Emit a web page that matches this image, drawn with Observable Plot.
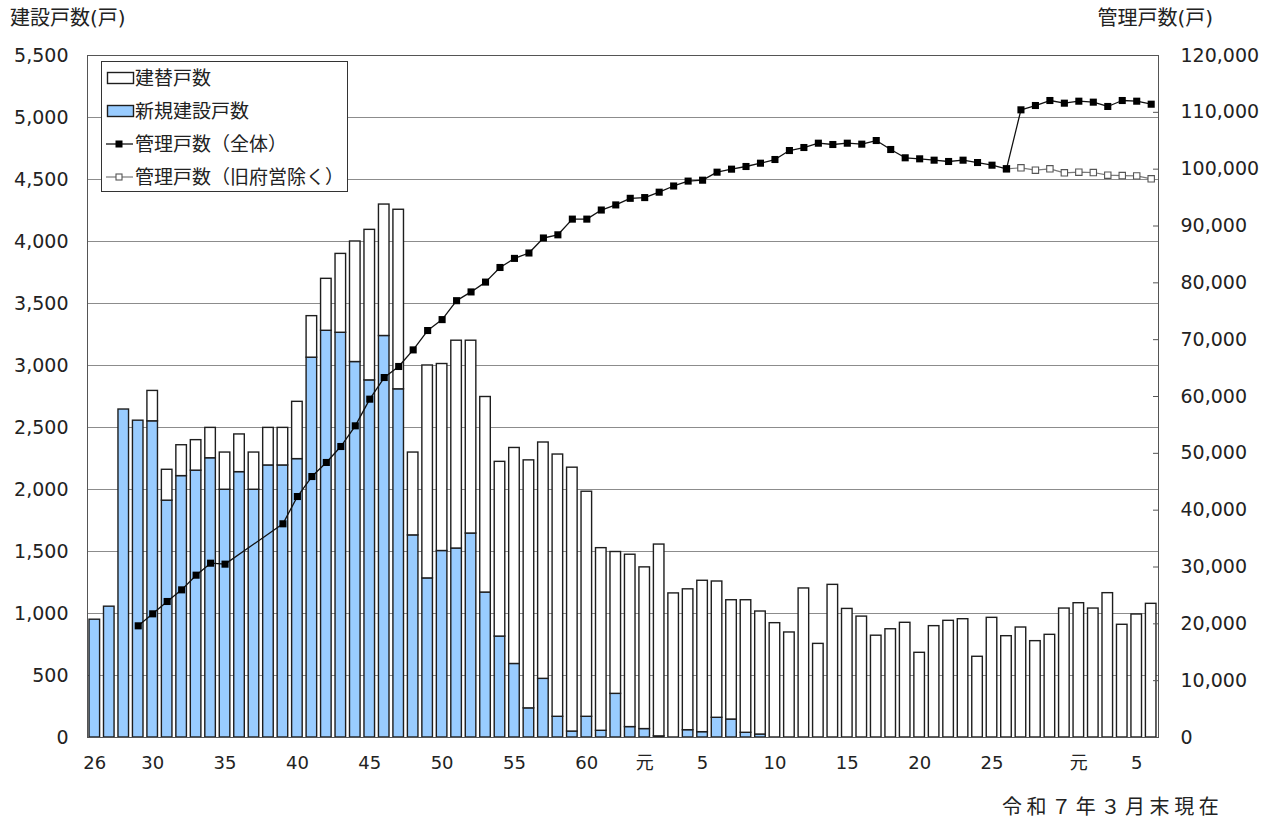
<!DOCTYPE html>
<html><head><meta charset="utf-8">
<script src="https://cdn.jsdelivr.net/npm/d3@7"></script>
<script src="https://cdn.jsdelivr.net/npm/@observablehq/plot@0.6"></script>
<style>
body{margin:0;background:#fff;}
#chart svg{display:block;}
</style></head><body><div id="chart"></div>
<script>
// 年度 (昭和26年〜令和6年)
const years = [1951,1952,1953,1954,1955,1956,1957,1958,1959,1960,1961,1962,1963,1964,1965,1966,1967,1968,1969,1970,
1971,1972,1973,1974,1975,1976,1977,1978,1979,1980,1981,1982,1983,1984,1985,1986,1987,1988,1989,1990,
1991,1992,1993,1994,1995,1996,1997,1998,1999,2000,2001,2002,2003,2004,2005,2006,2007,2008,2009,2010,
2011,2012,2013,2014,2015,2016,2017,2018,2019,2020,2021,2022,2023,2024];
// 新規建設戸数
const newBuild = [950,1055,2645,2555,2550,1910,2108,2152,2252,1998,2140,1998,2194,2194,2245,3063,3280,3264,3028,2880,
3238,2808,1630,1283,1504,1524,1645,1169,814,593,235,473,167,48,167,54,352,84,68,9,
0,59,43,159,145,38,24,0,0,0,0,0,0,0,0,0,0,0,0,0,
0,0,0,0,0,0,0,0,0,0,0,0,0,0];
// 建替戸数
const rebuild = [0,0,0,0,245,249,249,246,245,300,304,300,303,303,462,335,419,636,972,1214,
1060,1448,668,1717,1508,1676,1555,1577,1409,1742,2000,1906,2115,2128,1815,1473,1144,1390,1304,1547,
1162,1136,1221,1099,962,1069,992,922,847,1202,755,1231,1037,975,821,873,925,683,898,941,
954,651,965,817,887,777,828,1040,1083,1040,1164,909,992,1078];
// 管理戸数（全体）
const kanriAll = [null,null,null,19650,21760,23930,25980,28560,30670,30500,null,null,null,37600,42400,45920,48390,51200,54840,59530,
63340,65280,68200,71610,73530,76860,78400,80130,82700,84300,85250,87890,88450,91210,91210,92810,93710,94870,95000,95950,
97040,97900,98060,99470,100000,100470,101050,101700,103280,103810,104570,104340,104570,104400,105040,103460,102000,101820,101580,101350,
101580,101170,100700,100060,110440,111200,112080,111610,111960,111790,111030,112080,111960,111430];
// 管理戸数（旧府営除く）
const kanriExcl = [null,null,null,null,null,null,null,null,null,null,null,null,null,null,null,null,null,null,null,null,
null,null,null,null,null,null,null,null,null,null,null,null,null,null,null,null,null,null,null,null,
null,null,null,null,null,null,null,null,null,null,null,null,null,null,null,null,null,null,null,null,
null,null,null,100060,100240,99820,100060,99360,99470,99410,98940,98880,98820,98300];

const xTickYears = [1951,1955,1960,1965,1970,1975,1980,1985,1989,1993,1998,2003,2008,2013,2019,2023];
const xTickLabels = ["26","30","35","40","45","50","55","60","元","5","10","15","20","25","元","5"];
const leftTicks = [0,500,1000,1500,2000,2500,3000,3500,4000,4500,5000,5500];
const rightTicks = [0,10000,20000,30000,40000,50000,60000,70000,80000,90000,100000,110000,120000];
const seriesNames = ["建替戸数","新規建設戸数","管理戸数（全体）","管理戸数（旧府営除く）"];
const leftTitle = "建設戸数(戸)";
const rightTitle = "管理戸数(戸)";
const caption = "令和７年３月末現在";

const FONT = '"DejaVu Sans","Noto Sans CJK JP",sans-serif';
const k = 5500/120000;
const barRows = [];
years.forEach((y,i)=>{
  barRows.push({year:y, type:seriesNames[1], value:newBuild[i]});
  barRows.push({year:y, type:seriesNames[0], value:rebuild[i]});
});
const allRows = years.map((y,i)=>({year:y, v:kanriAll[i]})).filter(d=>d.v!=null);
const exclRows = years.map((y,i)=>({year:y, v:kanriExcl[i]})).filter(d=>d.v!=null);
const tickMap = new Map(xTickYears.map((y,i)=>[y,xTickLabels[i]]));
const fmt = d3.format(",");

const chart = Plot.plot({
  width:1275, height:823,
  marginLeft:87, marginRight:117, marginTop:55, marginBottom:86,
  style:{fontFamily:FONT, fontSize:"18px", color:"#222", background:"#fff", overflow:"visible"},
  x:{type:"band", domain:years, paddingInner:0.27, paddingOuter:0.14, align:0.5},
  y:{domain:[0,5500]},
  color:{domain:[seriesNames[1],seriesNames[0]], range:["#99ccff","#ffffff"]},
  marks:[
    Plot.gridY(leftTicks, {stroke:"#8c8c8c", strokeOpacity:1, strokeWidth:1}),
    Plot.barY(barRows, {x:"year", y:"value", fill:"type", stroke:"#1e1e1e", strokeWidth:1.4}),
    Plot.line(exclRows, {x:"year", y:d=>d.v*k, stroke:"#7a7a7a", strokeWidth:1.2}),
    Plot.dot(exclRows, {x:"year", y:d=>d.v*k, symbol:"square", r:3.6, fill:"#fff", stroke:"#555", strokeWidth:1.1}),
    Plot.line(allRows, {x:"year", y:d=>d.v*k, stroke:"#111", strokeWidth:1.3}),
    Plot.dot(allRows, {x:"year", y:d=>d.v*k, symbol:"square", r:4, fill:"#000", stroke:"none"}),
    Plot.frame({stroke:"#555", strokeWidth:1}),
    Plot.axisY(leftTicks, {anchor:"left", tickSize:0, tickPadding:19, tickFormat:fmt, label:null, fill:"#222", fontSize:19}),
    Plot.axisY(rightTicks.map(t=>t*k), {anchor:"right", tickSize:0, tickPadding:22, tickFormat:d=>fmt(Math.round(d/k)), label:null, fill:"#222", fontSize:19}),
    Plot.axisY(rightTicks.map(t=>t*k), {anchor:"right", tickSize:6, dx:-6, tickFormat:()=>"", label:null, stroke:"#555"}),
    Plot.axisX(xTickYears, {anchor:"bottom", tickSize:0, tickPadding:19, tickFormat:d=>tickMap.get(d), label:null, fill:"#222", fontSize:18})
  ]
});
document.getElementById("chart").appendChild(chart);

const svg = d3.select(chart);
svg.append("text").attr("x",10).attr("y",18).attr("dy","0.35em").attr("text-anchor","start")
  .attr("font-family",FONT).attr("font-size",20).attr("fill","#222").text(leftTitle);
svg.append("text").attr("x",1213).attr("y",18).attr("dy","0.35em").attr("text-anchor","end")
  .attr("font-family",FONT).attr("font-size",20).attr("fill","#222").text(rightTitle);
svg.append("text").attr("x",1002).attr("y",807).attr("dy","0.35em").attr("text-anchor","start")
  .attr("font-family",FONT).attr("font-size",20).attr("fill","#222")
  .style("letter-spacing","4.6px").text(caption);

// 凡例
const lg = svg.append("g").attr("font-family",FONT).attr("font-size",19).attr("fill","#222").attr("text-anchor","start");
lg.append("rect").attr("x",101.5).attr("y",61.5).attr("width",246).attr("height",130)
  .attr("fill","#fff").attr("stroke","#333").attr("stroke-width",1);
const ys = [78,111,144,177];
lg.append("rect").attr("x",107.5).attr("y",72.5).attr("width",26).attr("height",11)
  .attr("fill","#fff").attr("stroke","#1e1e1e").attr("stroke-width",1.4);
lg.append("rect").attr("x",107.5).attr("y",105.5).attr("width",26).attr("height",11)
  .attr("fill","#99ccff").attr("stroke","#1e1e1e").attr("stroke-width",1.4);
lg.append("line").attr("x1",106).attr("x2",133).attr("y1",ys[2]).attr("y2",ys[2]).attr("stroke","#111").attr("stroke-width",1.3);
lg.append("rect").attr("x",115.5).attr("y",ys[2]-3.5).attr("width",7).attr("height",7).attr("fill","#000");
lg.append("line").attr("x1",106).attr("x2",133).attr("y1",ys[3]).attr("y2",ys[3]).attr("stroke","#7a7a7a").attr("stroke-width",1.2);
lg.append("rect").attr("x",116).attr("y",ys[3]-3).attr("width",6).attr("height",6).attr("fill","#fff").attr("stroke","#555").attr("stroke-width",1.1);
seriesNames.forEach((n,i)=>{
  lg.append("text").attr("x",135).attr("y",ys[i]).attr("dy","0.35em").attr("text-anchor","start").text(n);
});
</script></body></html>
